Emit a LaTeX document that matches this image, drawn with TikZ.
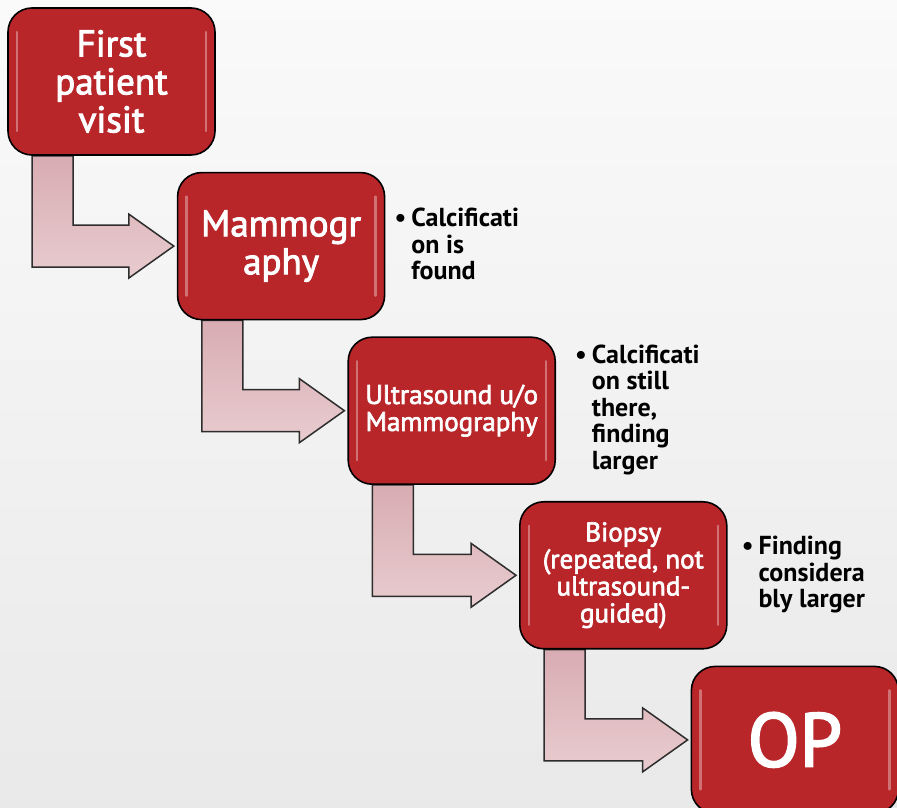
\documentclass[tikz,border=0pt]{standalone}
\usepackage{fontspec}
\setmainfont{PT Sans}[UprightFeatures={FakeBold=2.5}]
\usetikzlibrary{positioning,calc,backgrounds}

\definecolor{boxred}{RGB}{184,38,42}
\definecolor{pinktop}{RGB}{216,172,178}
\definecolor{pinkbot}{RGB}{232,204,207}
\definecolor{arrowline}{RGB}{45,45,45}

% L-shaped step arrow from the bottom of one box to the side of the next
\newcommand{\steparrow}[2]{%
  \path[steparrow] let \p1=(#1.south west), \p2=(#2.west) in
    (\x1+25pt,\y1) -- (\x1+66pt,\y1) -- (\x1+66pt,\y2+21pt)
    -- (\x2-48pt,\y2+21pt) -- (\x2-48pt,\y2+32pt) -- (\x2-3pt,\y2)
    -- (\x2-48pt,\y2-32pt) -- (\x2-48pt,\y2-21pt)
    -- (\x1+25pt,\y2-21pt) -- cycle;}

\begin{document}
\begin{tikzpicture}[
  x=1pt, y=1pt,
  node distance=16pt,
  stepbox/.style={rectangle, draw=black, line width=1.6pt, fill=boxred,
    rounded corners=24pt, minimum width=207pt, minimum height=147pt,
    text=white, align=center, inner sep=4pt,
    path picture={
      \draw[white, opacity=0.35, line width=2.5pt, line cap=round]
        ([shift={(9pt,-24pt)}]path picture bounding box.north west)
        -- ([shift={(9pt,24pt)}]path picture bounding box.south west)
        ([shift={(-9pt,-24pt)}]path picture bounding box.north east)
        -- ([shift={(-9pt,24pt)}]path picture bounding box.south east);}},
  bigtext/.style={font=\fontsize{37}{38}\selectfont},
  midtext/.style={font=\fontsize{27}{27}\selectfont},
  note/.style={anchor=base west, inner sep=0pt,
    font=\bfseries\fontsize{26}{26.5}\selectfont},
  steparrow/.style={draw=arrowline, line width=1.5pt, line join=miter,
    top color=pinktop, bottom color=pinkbot}
]
  % background
  \begin{scope}[on background layer]
    \shade[top color=gray!4, bottom color=gray!17]
      (0,0) rectangle (897,808);
  \end{scope}
  \useasboundingbox (0,0) rectangle (897,808);

  \node[stepbox, bigtext] (visit) at (111.5,726.5)
    {First\\patient\\visit};
  \node[stepbox, bigtext, below right=16pt and -39pt of visit] (mammo)
    {Mammogr\\aphy};
  \node[stepbox, midtext, below right=16pt and -38pt of mammo] (ultra)
    {Ultrasound u/o\\Mammography};
  \node[stepbox, midtext, below right=16pt and -37pt of ultra] (biopsy)
    {Biopsy\\(repeated, not\\ultrasound-\\guided)};
  \node[stepbox, font=\fontsize{76}{76}\selectfont,
    below right=16pt and -37pt of biopsy] (op) {OP};

  % findings
  \node[note] (calc) at ([shift={(9pt,-55pt)}]mammo.north east)
    {\begin{tabular}[t]{@{}l@{\hspace{5pt}}l@{}}
      \textbullet & Calcificati\\ & on is\\ & found
    \end{tabular}};
  \node[note] (still) at ([shift={(19pt,-27pt)}]ultra.north east)
    {\begin{tabular}[t]{@{}l@{\hspace{5pt}}l@{}}
      \textbullet & Calcificati\\ & on still\\ & there,\\ & finding\\ & larger
    \end{tabular}};
  \node[note] (larger) at ([shift={(14pt,-54pt)}]biopsy.north east)
    {\begin{tabular}[t]{@{}l@{\hspace{5pt}}l@{}}
      \textbullet & Finding\\ & considera\\ & bly larger
    \end{tabular}};

  \begin{scope}[on background layer]
    \steparrow{visit}{mammo}
    \steparrow{mammo}{ultra}
    \steparrow{ultra}{biopsy}
    \steparrow{biopsy}{op}
  \end{scope}
\end{tikzpicture}
\end{document}
